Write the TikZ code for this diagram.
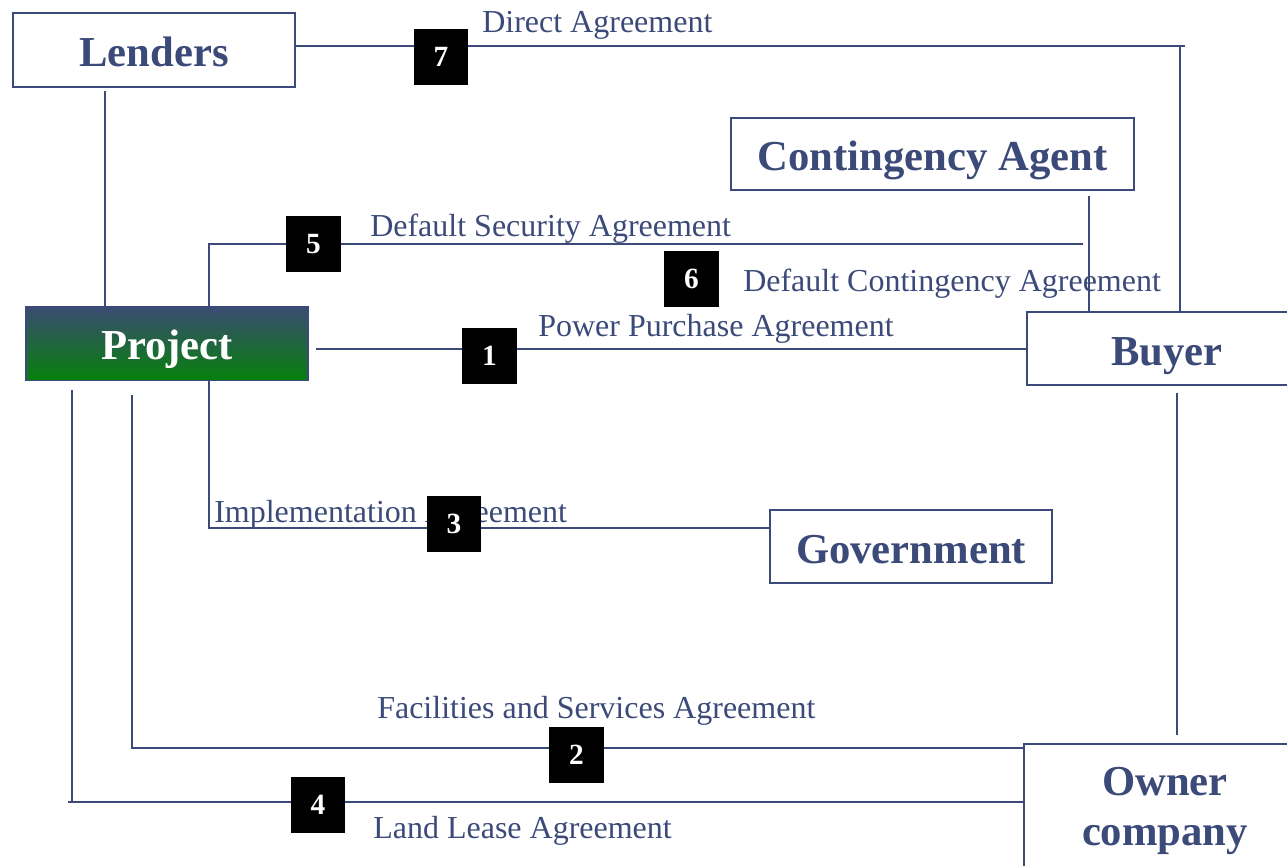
\documentclass[tikz,border=0pt]{standalone}
\usepackage{fontspec}
\setmainfont{Liberation Serif}
\usetikzlibrary{calc}
\definecolor{ink}{RGB}{59,74,120}
\definecolor{projtop}{RGB}{59,75,114}
\definecolor{projbot}{RGB}{6,128,12}
\tikzset{
  bigtext/.style={font=\fontsize{32}{38}\selectfont\bfseries},
  party/.style={draw=ink, line width=1.5pt, fill=white, text=ink, bigtext,
    inner sep=0pt, text height=25pt, text depth=0pt},
  link/.style={draw=ink, line width=1.5pt},
  numbox/.style={fill=black, text=white, minimum width=41pt, minimum height=42pt,
    inner sep=0pt, font=\fontsize{22}{24}\selectfont\bfseries},
  deal/.style={text=ink, font=\fontsize{24}{26}\selectfont, inner sep=0pt, anchor=base west}
}
\begin{document}
\begin{tikzpicture}[x=0.75pt, y=-0.75pt]
\useasboundingbox (0,0) rectangle (1287,866);

% parties
\node[party, minimum width=211.5pt, minimum height=55.5pt] (lenders) at (154,50) {Lenders};
\node[party, minimum width=302pt, minimum height=54pt] (agent) at (932.5,154) {Contingency Agent};
\node[draw=ink, line width=1pt, top color=projtop, bottom color=projbot, text=white,
  bigtext, inner sep=0pt, text height=24pt, text depth=0pt,
  minimum width=211.5pt, minimum height=55pt] (project) at (167,343.5) {Project};
\node[party, minimum width=210pt, minimum height=55pt] (buyer) at (1167,348.5) {Buyer};
\node[party, minimum width=211.5pt, minimum height=55pt] (gov) at (911,546.5) {Government};
\node[draw=ink, line width=1.5pt, fill=white, text=ink, inner sep=0pt, align=center,
  minimum width=211.5pt, minimum height=100pt,
  font=\fontsize{32}{38}\selectfont\bfseries] (owner) at (1165,811) {Owner\\company};

% corner points of the connectors
\coordinate (c7) at (1180,46);
\coordinate (c7e) at (1185,46);
\coordinate (c5a) at (209,244);
\coordinate (c5b) at (1083,244);
\coordinate (cL) at (105,91);
\coordinate (cA) at (1089,196);
\coordinate (c1) at (316,349);
\coordinate (cB) at (1177,393);
\coordinate (cO) at (1177,735);
\coordinate (c3a) at (209,528);
\coordinate (c2a) at (132,395);
\coordinate (c2b) at (132,748);
\coordinate (c4a) at (72,390);
\coordinate (c4b) at (72,802);
\coordinate (c4c) at (68,802);

% connectors
\draw[link] (lenders.east |- c7) -- (c7e);
\draw[link] (c7) -- (c7 |- buyer.north);
\draw[link] (cL) -- (cL |- project.north);
\draw[link] (c5a |- project.north) -- (c5a) -- (c5b);
\draw[link] (cA) -- (cA |- buyer.north);
\draw[link] (c1) -- (c1 -| buyer.west);
\draw[link] (cB) -- (cO);
\draw[link] (c5a |- project.south) -- (c3a) -- (c3a -| gov.west);
\draw[link] (c2a) -- (c2b) -- (c2b -| owner.west);
\draw[link] (c4a) -- (c4b);
\draw[link] (c4c) -- (c4b -| owner.west);

% agreement labels
\node[deal] (t7) at (482,33) {Direct Agreement};
\node[deal] (t5) at (370,237) {Default Security Agreement};
\node[deal] (t6) at (743,291) {Default Contingency Agreement};
\node[deal] (t1) at (538,336) {Power Purchase Agreement};
\node[deal] (t3) at (214,522) {Implementation Agreement};
\node[deal] (t2) at (377,718) {Facilities and Services Agreement};
\node[deal] (t4) at (373,838) {Land Lease Agreement};

% the agent-to-buyer connector runs across label 6
\draw[link] (cA |- t6.north) -- (cA |- t6.south);

% numbered markers
\node[numbox] (n7) at (441,57) {7};
\node[numbox] (n5) at (313.5,244) {5};
\node[numbox] (n6) at (691.5,279) {6};
\node[numbox] (n1) at (489.5,356) {1};
\node[numbox] (n3) at (454,524) {3};
\node[numbox] (n2) at (576.5,754.5) {2};
\node[numbox] (n4) at (318,804.5) {4};
\end{tikzpicture}
\end{document}
